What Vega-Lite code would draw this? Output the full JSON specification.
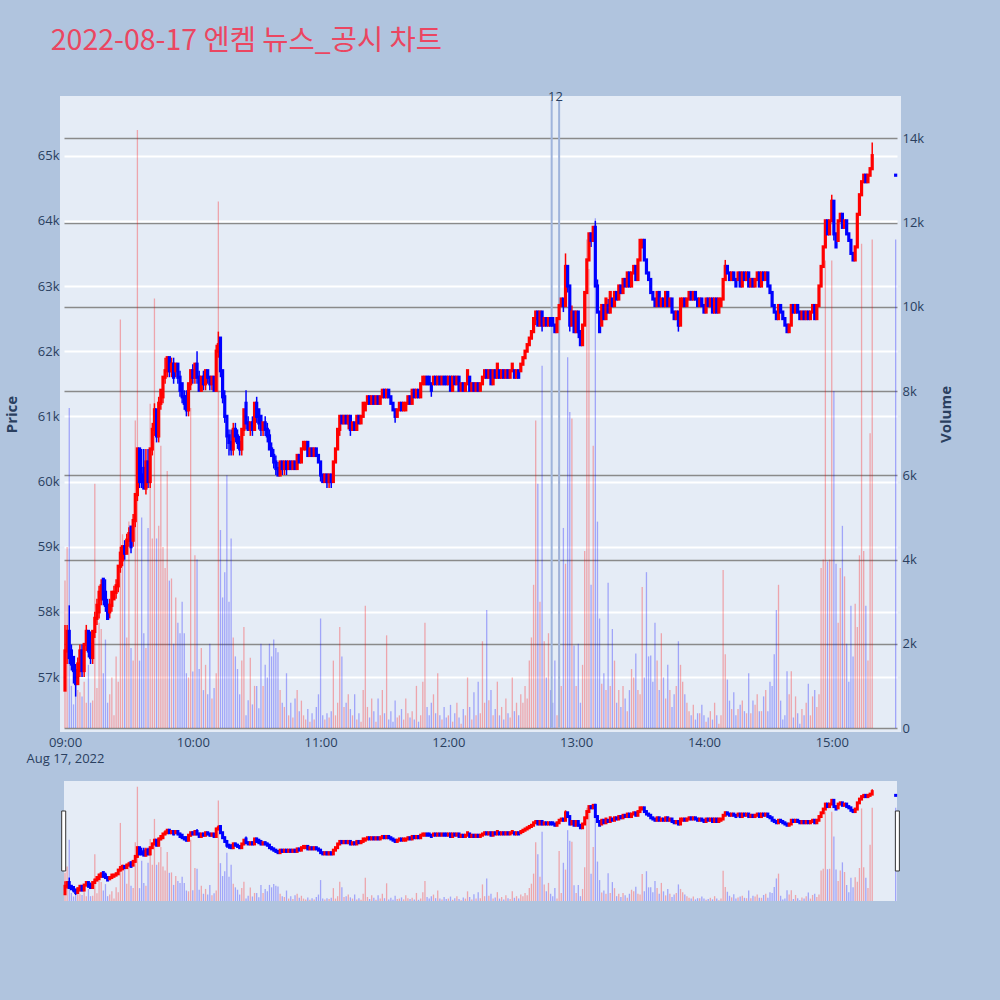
{
"$schema": "https://vega.github.io/schema/vega-lite/v6.json",
"background": "#b0c4de",
"padding": {"left": 0, "top": 27, "right": 52, "bottom": 115},
"title": {"text": "2022-08-17 엔켐 뉴스_공시 차트", "anchor": "start", "font": "Noto Sans CJK KR", "fontSize": 28.5, "fontWeight": "normal", "color": "#eb4661", "dx": 50, "offset": 31.5},
"config": {"view": {"stroke": null}, "axis": {"labelFont": "Open Sans", "titleFont": "Open Sans", "labelColor": "#2a3f5f", "titleColor": "#2a3f5f", "labelFontSize": 13, "titleFontSize": 15, "titleFontWeight": "bold", "ticks": false, "domain": false}},
"data": {"values": [
{"t":"2022-08-17T09:00","o":56800,"h":57800,"l":56800,"c":57400,"v":3500},
{"t":"2022-08-17T09:01","o":57400,"h":57800,"l":57200,"c":57700,"v":4300},
{"t":"2022-08-17T09:02","o":57700,"h":58100,"l":57200,"c":57300,"v":7600},
{"t":"2022-08-17T09:03","o":57400,"h":57500,"l":57100,"c":57200,"v":1000},
{"t":"2022-08-17T09:04","o":57300,"h":57300,"l":56900,"c":57100,"v":560},
{"t":"2022-08-17T09:05","o":57100,"h":57200,"l":56700,"c":56900,"v":1340},
{"t":"2022-08-17T09:06","o":56900,"h":57300,"l":56900,"c":57200,"v":900},
{"t":"2022-08-17T09:07","o":57100,"h":57500,"l":57000,"c":57400,"v":850},
{"t":"2022-08-17T09:08","o":57400,"h":57500,"l":57000,"c":57100,"v":750},
{"t":"2022-08-17T09:09","o":57100,"h":57500,"l":57000,"c":57500,"v":1100},
{"t":"2022-08-17T09:10","o":57500,"h":57800,"l":57400,"c":57700,"v":600},
{"t":"2022-08-17T09:11","o":57700,"h":57700,"l":57300,"c":57400,"v":1500},
{"t":"2022-08-17T09:12","o":57500,"h":57700,"l":57200,"c":57300,"v":600},
{"t":"2022-08-17T09:13","o":57300,"h":57700,"l":57200,"c":57700,"v":650},
{"t":"2022-08-17T09:14","o":57700,"h":58000,"l":57600,"c":57900,"v":5800},
{"t":"2022-08-17T09:15","o":57900,"h":58200,"l":57800,"c":58100,"v":950},
{"t":"2022-08-17T09:16","o":58000,"h":58400,"l":57900,"c":58300,"v":2500},
{"t":"2022-08-17T09:17","o":58200,"h":58500,"l":58100,"c":58400,"v":2350},
{"t":"2022-08-17T09:18","o":58500,"h":58500,"l":58100,"c":58200,"v":1300},
{"t":"2022-08-17T09:19","o":58300,"h":58500,"l":58000,"c":58100,"v":2100},
{"t":"2022-08-17T09:20","o":58100,"h":58200,"l":57900,"c":57900,"v":600},
{"t":"2022-08-17T09:21","o":58000,"h":58200,"l":57900,"c":58100,"v":800},
{"t":"2022-08-17T09:22","o":58100,"h":58300,"l":58000,"c":58300,"v":1200},
{"t":"2022-08-17T09:23","o":58200,"h":58400,"l":58200,"c":58300,"v":300},
{"t":"2022-08-17T09:24","o":58300,"h":58500,"l":58200,"c":58400,"v":1700},
{"t":"2022-08-17T09:25","o":58400,"h":58700,"l":58300,"c":58700,"v":1100},
{"t":"2022-08-17T09:26","o":58700,"h":59000,"l":58600,"c":58900,"v":9700},
{"t":"2022-08-17T09:27","o":58800,"h":59000,"l":58700,"c":59000,"v":4600},
{"t":"2022-08-17T09:28","o":59000,"h":59100,"l":58800,"c":58900,"v":4100},
{"t":"2022-08-17T09:29","o":58900,"h":59200,"l":58900,"c":59100,"v":2150},
{"t":"2022-08-17T09:30","o":59100,"h":59300,"l":59000,"c":59200,"v":4900},
{"t":"2022-08-17T09:31","o":59300,"h":59300,"l":58900,"c":59000,"v":1900},
{"t":"2022-08-17T09:32","o":59100,"h":59500,"l":59000,"c":59400,"v":1600},
{"t":"2022-08-17T09:33","o":59400,"h":59800,"l":59300,"c":59800,"v":7300},
{"t":"2022-08-17T09:34","o":59800,"h":60500,"l":59700,"c":60500,"v":14200},
{"t":"2022-08-17T09:35","o":60500,"h":60500,"l":59900,"c":60000,"v":1600},
{"t":"2022-08-17T09:36","o":60100,"h":60500,"l":59900,"c":60000,"v":5000},
{"t":"2022-08-17T09:37","o":60200,"h":60500,"l":59900,"c":59900,"v":2250},
{"t":"2022-08-17T09:38","o":59900,"h":60500,"l":59800,"c":60300,"v":1900},
{"t":"2022-08-17T09:39","o":60300,"h":60500,"l":59900,"c":60000,"v":4750},
{"t":"2022-08-17T09:40","o":60000,"h":60500,"l":59900,"c":60500,"v":7700},
{"t":"2022-08-17T09:41","o":60500,"h":60900,"l":60400,"c":60800,"v":4500},
{"t":"2022-08-17T09:42","o":60800,"h":61200,"l":60700,"c":61100,"v":10200},
{"t":"2022-08-17T09:43","o":61100,"h":61100,"l":60600,"c":60700,"v":4500},
{"t":"2022-08-17T09:44","o":60700,"h":61300,"l":60600,"c":61200,"v":4800},
{"t":"2022-08-17T09:45","o":61200,"h":61400,"l":61100,"c":61400,"v":6700},
{"t":"2022-08-17T09:46","o":61300,"h":61600,"l":61200,"c":61600,"v":4300},
{"t":"2022-08-17T09:47","o":61600,"h":61900,"l":61500,"c":61700,"v":3800},
{"t":"2022-08-17T09:48","o":61700,"h":61900,"l":61600,"c":61900,"v":6100},
{"t":"2022-08-17T09:49","o":61900,"h":61900,"l":61600,"c":61700,"v":3500},
{"t":"2022-08-17T09:50","o":61700,"h":61900,"l":61600,"c":61800,"v":3550},
{"t":"2022-08-17T09:51","o":61800,"h":61900,"l":61500,"c":61600,"v":2000},
{"t":"2022-08-17T09:52","o":61700,"h":61800,"l":61600,"c":61800,"v":3100},
{"t":"2022-08-17T09:53","o":61800,"h":61800,"l":61500,"c":61600,"v":2500},
{"t":"2022-08-17T09:54","o":61600,"h":61700,"l":61300,"c":61400,"v":2250},
{"t":"2022-08-17T09:55","o":61500,"h":61500,"l":61200,"c":61300,"v":3000},
{"t":"2022-08-17T09:56","o":61300,"h":61400,"l":61100,"c":61200,"v":2250},
{"t":"2022-08-17T09:57","o":61300,"h":61400,"l":61000,"c":61100,"v":1300},
{"t":"2022-08-17T09:58","o":61100,"h":61500,"l":61000,"c":61500,"v":1200},
{"t":"2022-08-17T09:59","o":61500,"h":61700,"l":61400,"c":61700,"v":7600},
{"t":"2022-08-17T10:00","o":61700,"h":61800,"l":61500,"c":61600,"v":1340},
{"t":"2022-08-17T10:01","o":61600,"h":61800,"l":61500,"c":61800,"v":4100},
{"t":"2022-08-17T10:02","o":61800,"h":62000,"l":61500,"c":61600,"v":4000},
{"t":"2022-08-17T10:03","o":61600,"h":61700,"l":61400,"c":61400,"v":1400},
{"t":"2022-08-17T10:04","o":61400,"h":61600,"l":61400,"c":61600,"v":1900},
{"t":"2022-08-17T10:05","o":61600,"h":61700,"l":61400,"c":61500,"v":900},
{"t":"2022-08-17T10:06","o":61500,"h":61700,"l":61400,"c":61700,"v":1500},
{"t":"2022-08-17T10:07","o":61700,"h":61700,"l":61500,"c":61600,"v":800},
{"t":"2022-08-17T10:08","o":61600,"h":61600,"l":61400,"c":61500,"v":2000},
{"t":"2022-08-17T10:09","o":61500,"h":61600,"l":61400,"c":61600,"v":700},
{"t":"2022-08-17T10:10","o":61600,"h":61600,"l":61400,"c":61400,"v":950},
{"t":"2022-08-17T10:11","o":61400,"h":62100,"l":61400,"c":62000,"v":1300},
{"t":"2022-08-17T10:12","o":62000,"h":62300,"l":61900,"c":62100,"v":12500},
{"t":"2022-08-17T10:13","o":62200,"h":62200,"l":61600,"c":61700,"v":4700},
{"t":"2022-08-17T10:14","o":61700,"h":61700,"l":61200,"c":61300,"v":3100},
{"t":"2022-08-17T10:15","o":61300,"h":61400,"l":60900,"c":61000,"v":3700},
{"t":"2022-08-17T10:16","o":61000,"h":61000,"l":60500,"c":60700,"v":6000},
{"t":"2022-08-17T10:17","o":60700,"h":60800,"l":60400,"c":60600,"v":3000},
{"t":"2022-08-17T10:18","o":60600,"h":60800,"l":60400,"c":60500,"v":4500},
{"t":"2022-08-17T10:19","o":60500,"h":60900,"l":60400,"c":60800,"v":2150},
{"t":"2022-08-17T10:20","o":60800,"h":60900,"l":60600,"c":60700,"v":1700},
{"t":"2022-08-17T10:21","o":60700,"h":60800,"l":60500,"c":60600,"v":1400},
{"t":"2022-08-17T10:22","o":60600,"h":60700,"l":60400,"c":60500,"v":800},
{"t":"2022-08-17T10:23","o":60500,"h":60800,"l":60400,"c":60800,"v":1600},
{"t":"2022-08-17T10:24","o":60800,"h":61100,"l":60700,"c":61100,"v":2400},
{"t":"2022-08-17T10:25","o":61200,"h":61400,"l":60800,"c":60900,"v":300},
{"t":"2022-08-17T10:26","o":60900,"h":61000,"l":60800,"c":60800,"v":660},
{"t":"2022-08-17T10:27","o":60800,"h":60900,"l":60700,"c":60900,"v":1670},
{"t":"2022-08-17T10:28","o":60900,"h":61000,"l":60700,"c":60800,"v":560},
{"t":"2022-08-17T10:29","o":60800,"h":61200,"l":60800,"c":61200,"v":1000},
{"t":"2022-08-17T10:30","o":61200,"h":61300,"l":60900,"c":61000,"v":1000},
{"t":"2022-08-17T10:31","o":61100,"h":61100,"l":60800,"c":60900,"v":470},
{"t":"2022-08-17T10:32","o":61000,"h":61000,"l":60700,"c":60800,"v":2000},
{"t":"2022-08-17T10:33","o":60800,"h":60900,"l":60700,"c":60900,"v":1000},
{"t":"2022-08-17T10:34","o":60900,"h":61000,"l":60700,"c":60800,"v":1500},
{"t":"2022-08-17T10:35","o":60800,"h":60900,"l":60600,"c":60700,"v":1200},
{"t":"2022-08-17T10:36","o":60700,"h":60800,"l":60500,"c":60500,"v":2000},
{"t":"2022-08-17T10:37","o":60500,"h":60600,"l":60400,"c":60400,"v":1700},
{"t":"2022-08-17T10:38","o":60400,"h":60500,"l":60200,"c":60300,"v":2100},
{"t":"2022-08-17T10:39","o":60300,"h":60400,"l":60100,"c":60200,"v":1900},
{"t":"2022-08-17T10:40","o":60200,"h":60300,"l":60100,"c":60100,"v":1800},
{"t":"2022-08-17T10:41","o":60100,"h":60300,"l":60100,"c":60300,"v":900},
{"t":"2022-08-17T10:42","o":60300,"h":60300,"l":60100,"c":60200,"v":600},
{"t":"2022-08-17T10:43","o":60200,"h":60300,"l":60100,"c":60300,"v":500},
{"t":"2022-08-17T10:44","o":60300,"h":60300,"l":60100,"c":60200,"v":1300},
{"t":"2022-08-17T10:45","o":60200,"h":60300,"l":60200,"c":60300,"v":300},
{"t":"2022-08-17T10:46","o":60300,"h":60300,"l":60200,"c":60200,"v":600},
{"t":"2022-08-17T10:47","o":60200,"h":60300,"l":60200,"c":60300,"v":250},
{"t":"2022-08-17T10:48","o":60300,"h":60300,"l":60200,"c":60200,"v":700},
{"t":"2022-08-17T10:49","o":60200,"h":60400,"l":60200,"c":60400,"v":900},
{"t":"2022-08-17T10:50","o":60400,"h":60400,"l":60300,"c":60300,"v":400},
{"t":"2022-08-17T10:51","o":60300,"h":60500,"l":60300,"c":60500,"v":650},
{"t":"2022-08-17T10:52","o":60500,"h":60600,"l":60500,"c":60600,"v":300},
{"t":"2022-08-17T10:53","o":60500,"h":60600,"l":60500,"c":60600,"v":200},
{"t":"2022-08-17T10:54","o":60600,"h":60600,"l":60400,"c":60400,"v":450},
{"t":"2022-08-17T10:55","o":60400,"h":60500,"l":60400,"c":60500,"v":150},
{"t":"2022-08-17T10:56","o":60500,"h":60500,"l":60400,"c":60400,"v":350},
{"t":"2022-08-17T10:57","o":60400,"h":60500,"l":60400,"c":60500,"v":200},
{"t":"2022-08-17T10:58","o":60500,"h":60500,"l":60400,"c":60400,"v":500},
{"t":"2022-08-17T10:59","o":60400,"h":60400,"l":60300,"c":60300,"v":800},
{"t":"2022-08-17T11:00","o":60300,"h":60300,"l":60000,"c":60100,"v":2600},
{"t":"2022-08-17T11:01","o":60100,"h":60100,"l":60000,"c":60000,"v":300},
{"t":"2022-08-17T11:02","o":60000,"h":60100,"l":60000,"c":60100,"v":200},
{"t":"2022-08-17T11:03","o":60100,"h":60100,"l":59900,"c":60000,"v":350},
{"t":"2022-08-17T11:04","o":60000,"h":60100,"l":59900,"c":60100,"v":250},
{"t":"2022-08-17T11:05","o":60100,"h":60100,"l":59900,"c":60000,"v":400},
{"t":"2022-08-17T11:06","o":60000,"h":60300,"l":60000,"c":60300,"v":1600},
{"t":"2022-08-17T11:07","o":60300,"h":60500,"l":60300,"c":60500,"v":300},
{"t":"2022-08-17T11:08","o":60500,"h":60800,"l":60500,"c":60800,"v":600},
{"t":"2022-08-17T11:09","o":60800,"h":61000,"l":60700,"c":61000,"v":2400},
{"t":"2022-08-17T11:10","o":61000,"h":61000,"l":60900,"c":60900,"v":1700},
{"t":"2022-08-17T11:11","o":60900,"h":61000,"l":60900,"c":61000,"v":500},
{"t":"2022-08-17T11:12","o":61000,"h":61000,"l":60900,"c":60900,"v":600},
{"t":"2022-08-17T11:13","o":60900,"h":61000,"l":60800,"c":61000,"v":800},
{"t":"2022-08-17T11:14","o":61000,"h":61000,"l":60700,"c":60800,"v":450},
{"t":"2022-08-17T11:15","o":60800,"h":60900,"l":60800,"c":60900,"v":300},
{"t":"2022-08-17T11:16","o":60900,"h":60900,"l":60800,"c":60800,"v":800},
{"t":"2022-08-17T11:17","o":60800,"h":61000,"l":60800,"c":61000,"v":200},
{"t":"2022-08-17T11:18","o":61000,"h":61000,"l":60900,"c":60900,"v":350},
{"t":"2022-08-17T11:19","o":60900,"h":61000,"l":60900,"c":61000,"v":150},
{"t":"2022-08-17T11:20","o":61000,"h":61200,"l":61000,"c":61200,"v":900},
{"t":"2022-08-17T11:21","o":61100,"h":61200,"l":61100,"c":61200,"v":2900},
{"t":"2022-08-17T11:22","o":61200,"h":61300,"l":61200,"c":61300,"v":500},
{"t":"2022-08-17T11:23","o":61300,"h":61300,"l":61200,"c":61200,"v":250},
{"t":"2022-08-17T11:24","o":61200,"h":61300,"l":61200,"c":61300,"v":700},
{"t":"2022-08-17T11:25","o":61300,"h":61300,"l":61200,"c":61200,"v":400},
{"t":"2022-08-17T11:26","o":61200,"h":61300,"l":61200,"c":61300,"v":150},
{"t":"2022-08-17T11:27","o":61300,"h":61300,"l":61200,"c":61200,"v":700},
{"t":"2022-08-17T11:28","o":61200,"h":61300,"l":61200,"c":61300,"v":300},
{"t":"2022-08-17T11:29","o":61300,"h":61400,"l":61300,"c":61400,"v":900},
{"t":"2022-08-17T11:30","o":61400,"h":61400,"l":61300,"c":61300,"v":350},
{"t":"2022-08-17T11:31","o":61300,"h":61400,"l":61300,"c":61400,"v":2200},
{"t":"2022-08-17T11:32","o":61400,"h":61400,"l":61300,"c":61300,"v":200},
{"t":"2022-08-17T11:33","o":61300,"h":61300,"l":61200,"c":61200,"v":400},
{"t":"2022-08-17T11:34","o":61200,"h":61200,"l":61100,"c":61100,"v":150},
{"t":"2022-08-17T11:35","o":61100,"h":61100,"l":60900,"c":61000,"v":650},
{"t":"2022-08-17T11:36","o":61000,"h":61100,"l":61000,"c":61100,"v":250},
{"t":"2022-08-17T11:37","o":61100,"h":61200,"l":61100,"c":61200,"v":300},
{"t":"2022-08-17T11:38","o":61200,"h":61200,"l":61100,"c":61100,"v":450},
{"t":"2022-08-17T11:39","o":61100,"h":61200,"l":61100,"c":61200,"v":200},
{"t":"2022-08-17T11:40","o":61100,"h":61200,"l":61100,"c":61200,"v":700},
{"t":"2022-08-17T11:41","o":61200,"h":61300,"l":61200,"c":61300,"v":350},
{"t":"2022-08-17T11:42","o":61300,"h":61300,"l":61200,"c":61200,"v":250},
{"t":"2022-08-17T11:43","o":61200,"h":61400,"l":61200,"c":61400,"v":400},
{"t":"2022-08-17T11:44","o":61400,"h":61400,"l":61300,"c":61300,"v":200},
{"t":"2022-08-17T11:45","o":61300,"h":61400,"l":61300,"c":61400,"v":1000},
{"t":"2022-08-17T11:46","o":61400,"h":61400,"l":61300,"c":61300,"v":150},
{"t":"2022-08-17T11:47","o":61300,"h":61500,"l":61300,"c":61500,"v":300},
{"t":"2022-08-17T11:48","o":61500,"h":61600,"l":61500,"c":61600,"v":1100},
{"t":"2022-08-17T11:49","o":61500,"h":61600,"l":61500,"c":61600,"v":2500},
{"t":"2022-08-17T11:50","o":61600,"h":61600,"l":61500,"c":61500,"v":500},
{"t":"2022-08-17T11:51","o":61600,"h":61600,"l":61500,"c":61500,"v":300},
{"t":"2022-08-17T11:52","o":61500,"h":61500,"l":61300,"c":61400,"v":600},
{"t":"2022-08-17T11:53","o":61500,"h":61600,"l":61500,"c":61600,"v":800},
{"t":"2022-08-17T11:54","o":61600,"h":61600,"l":61500,"c":61500,"v":350},
{"t":"2022-08-17T11:55","o":61500,"h":61600,"l":61500,"c":61600,"v":1300},
{"t":"2022-08-17T11:56","o":61600,"h":61600,"l":61500,"c":61500,"v":300},
{"t":"2022-08-17T11:57","o":61500,"h":61600,"l":61500,"c":61600,"v":200},
{"t":"2022-08-17T11:58","o":61600,"h":61600,"l":61500,"c":61500,"v":500},
{"t":"2022-08-17T11:59","o":61600,"h":61600,"l":61500,"c":61500,"v":250},
{"t":"2022-08-17T12:00","o":61500,"h":61600,"l":61500,"c":61600,"v":300},
{"t":"2022-08-17T12:01","o":61600,"h":61600,"l":61400,"c":61400,"v":550},
{"t":"2022-08-17T12:02","o":61400,"h":61600,"l":61400,"c":61600,"v":150},
{"t":"2022-08-17T12:03","o":61600,"h":61600,"l":61500,"c":61500,"v":350},
{"t":"2022-08-17T12:04","o":61500,"h":61600,"l":61500,"c":61600,"v":600},
{"t":"2022-08-17T12:05","o":61600,"h":61600,"l":61400,"c":61400,"v":250},
{"t":"2022-08-17T12:06","o":61400,"h":61500,"l":61400,"c":61500,"v":100},
{"t":"2022-08-17T12:07","o":61500,"h":61500,"l":61400,"c":61400,"v":450},
{"t":"2022-08-17T12:08","o":61400,"h":61500,"l":61400,"c":61500,"v":300},
{"t":"2022-08-17T12:09","o":61500,"h":61700,"l":61500,"c":61700,"v":1200},
{"t":"2022-08-17T12:10","o":61600,"h":61600,"l":61400,"c":61400,"v":500},
{"t":"2022-08-17T12:11","o":61400,"h":61500,"l":61400,"c":61500,"v":200},
{"t":"2022-08-17T12:12","o":61500,"h":61500,"l":61400,"c":61400,"v":850},
{"t":"2022-08-17T12:13","o":61400,"h":61500,"l":61400,"c":61500,"v":300},
{"t":"2022-08-17T12:14","o":61500,"h":61500,"l":61400,"c":61400,"v":1100},
{"t":"2022-08-17T12:15","o":61400,"h":61500,"l":61400,"c":61500,"v":350},
{"t":"2022-08-17T12:16","o":61500,"h":61600,"l":61500,"c":61600,"v":2060},
{"t":"2022-08-17T12:17","o":61600,"h":61700,"l":61600,"c":61700,"v":600},
{"t":"2022-08-17T12:18","o":61700,"h":61700,"l":61600,"c":61600,"v":2800},
{"t":"2022-08-17T12:19","o":61600,"h":61700,"l":61600,"c":61700,"v":660},
{"t":"2022-08-17T12:20","o":61700,"h":61700,"l":61500,"c":61500,"v":900},
{"t":"2022-08-17T12:21","o":61500,"h":61700,"l":61500,"c":61700,"v":300},
{"t":"2022-08-17T12:22","o":61700,"h":61700,"l":61600,"c":61600,"v":450},
{"t":"2022-08-17T12:23","o":61600,"h":61800,"l":61600,"c":61800,"v":1100},
{"t":"2022-08-17T12:24","o":61700,"h":61700,"l":61600,"c":61600,"v":300},
{"t":"2022-08-17T12:25","o":61600,"h":61700,"l":61600,"c":61700,"v":500},
{"t":"2022-08-17T12:26","o":61700,"h":61700,"l":61600,"c":61600,"v":200},
{"t":"2022-08-17T12:27","o":61600,"h":61700,"l":61600,"c":61700,"v":700},
{"t":"2022-08-17T12:28","o":61700,"h":61700,"l":61600,"c":61600,"v":350},
{"t":"2022-08-17T12:29","o":61600,"h":61700,"l":61600,"c":61700,"v":250},
{"t":"2022-08-17T12:30","o":61700,"h":61800,"l":61700,"c":61800,"v":1200},
{"t":"2022-08-17T12:31","o":61700,"h":61700,"l":61600,"c":61600,"v":400},
{"t":"2022-08-17T12:32","o":61600,"h":61700,"l":61600,"c":61700,"v":600},
{"t":"2022-08-17T12:33","o":61700,"h":61700,"l":61600,"c":61600,"v":300},
{"t":"2022-08-17T12:34","o":61700,"h":61800,"l":61700,"c":61800,"v":800},
{"t":"2022-08-17T12:35","o":61800,"h":61900,"l":61800,"c":61900,"v":600},
{"t":"2022-08-17T12:36","o":61900,"h":62000,"l":61900,"c":62000,"v":1000},
{"t":"2022-08-17T12:37","o":62000,"h":62100,"l":62000,"c":62100,"v":700},
{"t":"2022-08-17T12:38","o":62100,"h":62200,"l":62100,"c":62200,"v":1600},
{"t":"2022-08-17T12:39","o":62200,"h":62300,"l":62200,"c":62300,"v":2150},
{"t":"2022-08-17T12:40","o":62300,"h":62500,"l":62300,"c":62500,"v":3400},
{"t":"2022-08-17T12:41","o":62500,"h":62600,"l":62400,"c":62600,"v":7300},
{"t":"2022-08-17T12:42","o":62600,"h":62600,"l":62400,"c":62400,"v":5800},
{"t":"2022-08-17T12:43","o":62400,"h":62600,"l":62400,"c":62600,"v":3000},
{"t":"2022-08-17T12:44","o":62600,"h":62600,"l":62300,"c":62400,"v":8600},
{"t":"2022-08-17T12:45","o":62400,"h":62500,"l":62400,"c":62500,"v":2060},
{"t":"2022-08-17T12:46","o":62500,"h":62500,"l":62400,"c":62400,"v":1200},
{"t":"2022-08-17T12:47","o":62400,"h":62500,"l":62400,"c":62500,"v":2250},
{"t":"2022-08-17T12:48","o":62500,"h":62500,"l":62400,"c":62400,"v":900},
{"t":"2022-08-17T12:49","o":62500,"h":62500,"l":62400,"c":62400,"v":600},
{"t":"2022-08-17T12:50","o":62400,"h":62400,"l":62300,"c":62300,"v":1600},
{"t":"2022-08-17T12:51","o":62300,"h":62500,"l":62300,"c":62500,"v":300},
{"t":"2022-08-17T12:52","o":62500,"h":62700,"l":62500,"c":62700,"v":6200},
{"t":"2022-08-17T12:53","o":62700,"h":62800,"l":62700,"c":62800,"v":1000},
{"t":"2022-08-17T12:54","o":62800,"h":62800,"l":62600,"c":62700,"v":4750},
{"t":"2022-08-17T12:55","o":62700,"h":63500,"l":62700,"c":63300,"v":3900},
{"t":"2022-08-17T12:56","o":63300,"h":63300,"l":62900,"c":63000,"v":8800},
{"t":"2022-08-17T12:57","o":63000,"h":63000,"l":62300,"c":62400,"v":7500},
{"t":"2022-08-17T12:58","o":62400,"h":62700,"l":62400,"c":62600,"v":7350},
{"t":"2022-08-17T12:59","o":62600,"h":62600,"l":62300,"c":62300,"v":1960},
{"t":"2022-08-17T13:00","o":62300,"h":62600,"l":62300,"c":62600,"v":1000},
{"t":"2022-08-17T13:01","o":62600,"h":62600,"l":62200,"c":62300,"v":2000},
{"t":"2022-08-17T13:02","o":62300,"h":62300,"l":62100,"c":62100,"v":600},
{"t":"2022-08-17T13:03","o":62100,"h":62400,"l":62100,"c":62400,"v":1500},
{"t":"2022-08-17T13:04","o":62400,"h":62900,"l":62400,"c":62900,"v":4200},
{"t":"2022-08-17T13:05","o":62900,"h":63400,"l":62900,"c":63400,"v":11600},
{"t":"2022-08-17T13:06","o":63400,"h":63800,"l":63400,"c":63800,"v":10900},
{"t":"2022-08-17T13:07","o":63800,"h":63800,"l":63600,"c":63700,"v":3400},
{"t":"2022-08-17T13:08","o":63700,"h":63900,"l":63700,"c":63900,"v":6700},
{"t":"2022-08-17T13:09","o":63900,"h":64000,"l":63000,"c":63000,"v":12100},
{"t":"2022-08-17T13:10","o":63000,"h":63100,"l":62600,"c":62600,"v":4900},
{"t":"2022-08-17T13:11","o":62600,"h":62600,"l":62300,"c":62300,"v":2600},
{"t":"2022-08-17T13:12","o":62400,"h":62700,"l":62400,"c":62700,"v":1050},
{"t":"2022-08-17T13:13","o":62700,"h":62700,"l":62500,"c":62500,"v":1300},
{"t":"2022-08-17T13:14","o":62500,"h":62800,"l":62500,"c":62800,"v":900},
{"t":"2022-08-17T13:15","o":62700,"h":62800,"l":62600,"c":62600,"v":3450},
{"t":"2022-08-17T13:16","o":62600,"h":62900,"l":62600,"c":62900,"v":1000},
{"t":"2022-08-17T13:17","o":62800,"h":62800,"l":62700,"c":62700,"v":2350},
{"t":"2022-08-17T13:18","o":62700,"h":62900,"l":62700,"c":62900,"v":1600},
{"t":"2022-08-17T13:19","o":62900,"h":62900,"l":62800,"c":62800,"v":600},
{"t":"2022-08-17T13:20","o":62800,"h":63000,"l":62800,"c":63000,"v":900},
{"t":"2022-08-17T13:21","o":63000,"h":63000,"l":62900,"c":62900,"v":500},
{"t":"2022-08-17T13:22","o":62900,"h":63100,"l":62900,"c":63100,"v":1000},
{"t":"2022-08-17T13:23","o":63100,"h":63100,"l":63000,"c":63000,"v":700},
{"t":"2022-08-17T13:24","o":63000,"h":63200,"l":63000,"c":63200,"v":400},
{"t":"2022-08-17T13:25","o":63200,"h":63200,"l":63000,"c":63000,"v":900},
{"t":"2022-08-17T13:26","o":63000,"h":63200,"l":63000,"c":63200,"v":1400},
{"t":"2022-08-17T13:27","o":63200,"h":63300,"l":63200,"c":63300,"v":1200},
{"t":"2022-08-17T13:28","o":63300,"h":63300,"l":63100,"c":63100,"v":1770},
{"t":"2022-08-17T13:29","o":63100,"h":63400,"l":63100,"c":63400,"v":900},
{"t":"2022-08-17T13:30","o":63400,"h":63700,"l":63400,"c":63700,"v":800},
{"t":"2022-08-17T13:31","o":63600,"h":63700,"l":63600,"c":63700,"v":3350},
{"t":"2022-08-17T13:32","o":63700,"h":63700,"l":63400,"c":63400,"v":1200},
{"t":"2022-08-17T13:33","o":63400,"h":63400,"l":63200,"c":63200,"v":3700},
{"t":"2022-08-17T13:34","o":63200,"h":63200,"l":63100,"c":63100,"v":1700},
{"t":"2022-08-17T13:35","o":63100,"h":63100,"l":62900,"c":62900,"v":1720},
{"t":"2022-08-17T13:36","o":62900,"h":62900,"l":62800,"c":62800,"v":1100},
{"t":"2022-08-17T13:37","o":62800,"h":62800,"l":62700,"c":62700,"v":2500},
{"t":"2022-08-17T13:38","o":62700,"h":62900,"l":62700,"c":62900,"v":1600},
{"t":"2022-08-17T13:39","o":62900,"h":62900,"l":62700,"c":62700,"v":900},
{"t":"2022-08-17T13:40","o":62700,"h":62800,"l":62700,"c":62800,"v":2250},
{"t":"2022-08-17T13:41","o":62800,"h":62800,"l":62700,"c":62700,"v":1200},
{"t":"2022-08-17T13:42","o":62700,"h":62900,"l":62700,"c":62900,"v":700},
{"t":"2022-08-17T13:43","o":62900,"h":62900,"l":62700,"c":62700,"v":1500},
{"t":"2022-08-17T13:44","o":62700,"h":62800,"l":62700,"c":62800,"v":900},
{"t":"2022-08-17T13:45","o":62800,"h":62800,"l":62600,"c":62600,"v":500},
{"t":"2022-08-17T13:46","o":62600,"h":62600,"l":62500,"c":62500,"v":800},
{"t":"2022-08-17T13:47","o":62500,"h":62600,"l":62500,"c":62600,"v":1000},
{"t":"2022-08-17T13:48","o":62600,"h":62600,"l":62300,"c":62400,"v":2060},
{"t":"2022-08-17T13:49","o":62400,"h":62800,"l":62400,"c":62800,"v":1500},
{"t":"2022-08-17T13:50","o":62700,"h":62800,"l":62700,"c":62800,"v":1100},
{"t":"2022-08-17T13:51","o":62800,"h":62800,"l":62700,"c":62700,"v":800},
{"t":"2022-08-17T13:52","o":62700,"h":62800,"l":62700,"c":62800,"v":600},
{"t":"2022-08-17T13:53","o":62800,"h":62900,"l":62800,"c":62900,"v":400},
{"t":"2022-08-17T13:54","o":62900,"h":62900,"l":62800,"c":62800,"v":300},
{"t":"2022-08-17T13:55","o":62800,"h":62900,"l":62800,"c":62900,"v":550},
{"t":"2022-08-17T13:56","o":62900,"h":62900,"l":62800,"c":62800,"v":200},
{"t":"2022-08-17T13:57","o":62800,"h":62800,"l":62700,"c":62700,"v":350},
{"t":"2022-08-17T13:58","o":62700,"h":62800,"l":62700,"c":62800,"v":350},
{"t":"2022-08-17T13:59","o":62800,"h":62800,"l":62700,"c":62700,"v":550},
{"t":"2022-08-17T14:00","o":62700,"h":62700,"l":62600,"c":62600,"v":300},
{"t":"2022-08-17T14:01","o":62600,"h":62800,"l":62600,"c":62800,"v":150},
{"t":"2022-08-17T14:02","o":62800,"h":62800,"l":62700,"c":62700,"v":250},
{"t":"2022-08-17T14:03","o":62700,"h":62800,"l":62700,"c":62800,"v":400},
{"t":"2022-08-17T14:04","o":62800,"h":62800,"l":62600,"c":62600,"v":200},
{"t":"2022-08-17T14:05","o":62600,"h":62800,"l":62600,"c":62800,"v":600},
{"t":"2022-08-17T14:06","o":62800,"h":62800,"l":62600,"c":62600,"v":300},
{"t":"2022-08-17T14:07","o":62600,"h":62800,"l":62600,"c":62800,"v":100},
{"t":"2022-08-17T14:08","o":62700,"h":62800,"l":62700,"c":62800,"v":300},
{"t":"2022-08-17T14:09","o":62800,"h":63100,"l":62800,"c":63100,"v":3750},
{"t":"2022-08-17T14:10","o":63100,"h":63400,"l":63100,"c":63300,"v":1750},
{"t":"2022-08-17T14:11","o":63300,"h":63300,"l":63200,"c":63200,"v":1150},
{"t":"2022-08-17T14:12","o":63200,"h":63200,"l":63100,"c":63100,"v":650},
{"t":"2022-08-17T14:13","o":63100,"h":63200,"l":63100,"c":63200,"v":450},
{"t":"2022-08-17T14:14","o":63200,"h":63200,"l":63100,"c":63100,"v":850},
{"t":"2022-08-17T14:15","o":63100,"h":63100,"l":63000,"c":63000,"v":300},
{"t":"2022-08-17T14:16","o":63100,"h":63200,"l":63100,"c":63200,"v":450},
{"t":"2022-08-17T14:17","o":63200,"h":63200,"l":63000,"c":63000,"v":550},
{"t":"2022-08-17T14:18","o":63000,"h":63200,"l":63000,"c":63200,"v":650},
{"t":"2022-08-17T14:19","o":63200,"h":63200,"l":63100,"c":63100,"v":400},
{"t":"2022-08-17T14:20","o":63100,"h":63200,"l":63100,"c":63200,"v":350},
{"t":"2022-08-17T14:21","o":63200,"h":63200,"l":63000,"c":63000,"v":1300},
{"t":"2022-08-17T14:22","o":63000,"h":63100,"l":63000,"c":63100,"v":350},
{"t":"2022-08-17T14:23","o":63100,"h":63100,"l":63000,"c":63000,"v":650},
{"t":"2022-08-17T14:24","o":63000,"h":63100,"l":63000,"c":63100,"v":550},
{"t":"2022-08-17T14:25","o":63100,"h":63200,"l":63100,"c":63200,"v":800},
{"t":"2022-08-17T14:26","o":63200,"h":63200,"l":63000,"c":63000,"v":400},
{"t":"2022-08-17T14:27","o":63000,"h":63200,"l":63000,"c":63200,"v":400},
{"t":"2022-08-17T14:28","o":63200,"h":63200,"l":63100,"c":63100,"v":750},
{"t":"2022-08-17T14:29","o":63100,"h":63200,"l":63100,"c":63200,"v":900},
{"t":"2022-08-17T14:30","o":63200,"h":63200,"l":63000,"c":63000,"v":400},
{"t":"2022-08-17T14:31","o":63000,"h":63000,"l":62900,"c":62900,"v":1100},
{"t":"2022-08-17T14:32","o":62900,"h":62900,"l":62700,"c":62700,"v":1000},
{"t":"2022-08-17T14:33","o":62700,"h":62700,"l":62600,"c":62600,"v":1750},
{"t":"2022-08-17T14:34","o":62600,"h":62600,"l":62500,"c":62500,"v":2800},
{"t":"2022-08-17T14:35","o":62500,"h":62700,"l":62500,"c":62700,"v":3400},
{"t":"2022-08-17T14:36","o":62700,"h":62700,"l":62600,"c":62600,"v":650},
{"t":"2022-08-17T14:37","o":62600,"h":62600,"l":62500,"c":62500,"v":200},
{"t":"2022-08-17T14:38","o":62500,"h":62500,"l":62400,"c":62400,"v":300},
{"t":"2022-08-17T14:39","o":62400,"h":62400,"l":62300,"c":62300,"v":1350},
{"t":"2022-08-17T14:40","o":62300,"h":62400,"l":62300,"c":62400,"v":800},
{"t":"2022-08-17T14:41","o":62400,"h":62700,"l":62400,"c":62700,"v":1350},
{"t":"2022-08-17T14:42","o":62700,"h":62700,"l":62600,"c":62600,"v":250},
{"t":"2022-08-17T14:43","o":62600,"h":62700,"l":62600,"c":62700,"v":750},
{"t":"2022-08-17T14:44","o":62700,"h":62700,"l":62600,"c":62600,"v":350},
{"t":"2022-08-17T14:45","o":62600,"h":62600,"l":62500,"c":62500,"v":100},
{"t":"2022-08-17T14:46","o":62500,"h":62600,"l":62500,"c":62600,"v":450},
{"t":"2022-08-17T14:47","o":62600,"h":62600,"l":62500,"c":62500,"v":300},
{"t":"2022-08-17T14:48","o":62500,"h":62600,"l":62500,"c":62600,"v":600},
{"t":"2022-08-17T14:49","o":62600,"h":62600,"l":62500,"c":62500,"v":1050},
{"t":"2022-08-17T14:50","o":62500,"h":62600,"l":62500,"c":62600,"v":300},
{"t":"2022-08-17T14:51","o":62600,"h":62700,"l":62600,"c":62700,"v":750},
{"t":"2022-08-17T14:52","o":62700,"h":62700,"l":62500,"c":62500,"v":900},
{"t":"2022-08-17T14:53","o":62500,"h":62700,"l":62500,"c":62700,"v":500},
{"t":"2022-08-17T14:54","o":62700,"h":63000,"l":62700,"c":63000,"v":800},
{"t":"2022-08-17T14:55","o":63000,"h":63300,"l":63000,"c":63300,"v":3800},
{"t":"2022-08-17T14:56","o":63300,"h":63600,"l":63300,"c":63600,"v":4000},
{"t":"2022-08-17T14:57","o":63600,"h":64000,"l":63600,"c":64000,"v":11100},
{"t":"2022-08-17T14:58","o":64000,"h":64000,"l":63800,"c":63800,"v":3950},
{"t":"2022-08-17T14:59","o":63800,"h":64000,"l":63800,"c":64000,"v":4000},
{"t":"2022-08-17T15:00","o":64000,"h":64400,"l":64000,"c":64300,"v":11100},
{"t":"2022-08-17T15:01","o":64300,"h":64300,"l":63700,"c":63800,"v":8000},
{"t":"2022-08-17T15:02","o":63800,"h":63800,"l":63600,"c":63600,"v":3900},
{"t":"2022-08-17T15:03","o":63700,"h":64000,"l":63700,"c":64000,"v":2500},
{"t":"2022-08-17T15:04","o":64000,"h":64100,"l":64000,"c":64100,"v":3800},
{"t":"2022-08-17T15:05","o":64100,"h":64100,"l":63900,"c":63900,"v":4800},
{"t":"2022-08-17T15:06","o":63900,"h":64000,"l":63900,"c":64000,"v":3600},
{"t":"2022-08-17T15:07","o":64000,"h":64000,"l":63800,"c":63800,"v":2000},
{"t":"2022-08-17T15:08","o":63800,"h":63800,"l":63700,"c":63700,"v":1100},
{"t":"2022-08-17T15:09","o":63700,"h":63700,"l":63500,"c":63500,"v":2900},
{"t":"2022-08-17T15:10","o":63500,"h":63500,"l":63400,"c":63400,"v":1700},
{"t":"2022-08-17T15:11","o":63400,"h":63600,"l":63400,"c":63600,"v":2950},
{"t":"2022-08-17T15:12","o":63600,"h":64100,"l":63600,"c":64100,"v":2400},
{"t":"2022-08-17T15:13","o":64100,"h":64400,"l":64100,"c":64400,"v":4100},
{"t":"2022-08-17T15:14","o":64400,"h":64600,"l":64400,"c":64600,"v":11500},
{"t":"2022-08-17T15:15","o":64600,"h":64700,"l":64600,"c":64700,"v":4200},
{"t":"2022-08-17T15:16","o":64700,"h":64700,"l":64600,"c":64600,"v":2900},
{"t":"2022-08-17T15:17","o":64600,"h":64700,"l":64600,"c":64700,"v":1600},
{"t":"2022-08-17T15:18","o":64700,"h":64800,"l":64700,"c":64800,"v":7000},
{"t":"2022-08-17T15:19","o":64800,"h":65200,"l":64800,"c":65000,"v":11600},
{"t":"2022-08-17T15:30","o":64700,"h":64700,"l":64700,"c":64700,"v":11600}
]},
"spacing": 12,
"vconcat": [
{
"width": 833, "height": 628,
"view": {"fill": "#e5ecf6", "stroke": "#e5ecf6", "strokeWidth": 8},
"encoding": {"x": {"field": "t", "type": "temporal",
  "scale": {"domain": [{"year": 2022, "month": 8, "date": 17, "hours": 8, "minutes": 59, "seconds": 32}, {"year": 2022, "month": 8, "date": 17, "hours": 15, "minutes": 30, "seconds": 38}]},
  "axis": {"title": "Aug 17, 2022", "titleFontWeight": "normal", "titleFontSize": 13, "titleAnchor": "start", "titleAlign": "center", "titleBaseline": "middle", "titleX": 1, "titleY": 30,
    "grid": false, "format": "%H:%M", "tickCount": 7, "labelFlush": false, "labelPadding": 8}}},
"layer": [
  {"layer": [
    {"mark": {"type": "rule", "strokeWidth": 1.3, "opacity": 0.3},
     "encoding": {
       "y": {"field": "v", "type": "quantitative", "scale": {"domain": [0, 14910], "nice": false, "zero": false},
         "axis": {"orient": "right", "title": "Volume", "values": [0, 2000, 4000, 6000, 8000, 10000, 12000, 14000], "labelExpr": "datum.value == 0 ? '0' : format(datum.value, '~s')", "grid": true, "gridColor": "#8a8a8a", "gridWidth": 1.3, "labelPadding": 5, "titlePadding": 15, "titleAngle": -90, "titleBaseline": "top"}},
       "y2": {"datum": 0},
       "color": {"condition": {"test": "datum.c > datum.o", "value": "#ff0000"}, "value": "#0000ff"}}},
    {"data": {"values": [{"t": "2022-08-17T12:48:30", "k": "1"}, {"t": "2022-08-17T12:52:00", "k": "2"}]},
     "mark": {"type": "rule", "stroke": "#9fb4dc", "strokeWidth": 2},
     "encoding": {}},
    {"data": {"values": [{"t": "2022-08-17T12:48:30", "k": "1"}, {"t": "2022-08-17T12:52:00", "k": "2"}]},
     "mark": {"type": "text", "baseline": "alphabetic", "dy": 1, "fontSize": 13, "font": "Open Sans", "color": "#2a3f5f"},
     "encoding": {"y": {"datum": 14910}, "text": {"field": "k"}}}
  ]},
  {"layer": [
    {"mark": {"type": "rule", "strokeWidth": 1.5},
     "encoding": {
       "y": {"field": "l", "type": "quantitative", "scale": {"domain": [56218, 65854], "nice": false, "zero": false},
         "axis": {"orient": "left", "title": "Price", "values": [57000, 58000, 59000, 60000, 61000, 62000, 63000, 64000, 65000], "format": "~s", "grid": true, "gridColor": "#ffffff", "gridWidth": 2, "labelPadding": 5, "titlePadding": 17.5}},
       "y2": {"field": "h"},
       "color": {"condition": {"test": "datum.c > datum.o", "value": "#ff0000"}, "value": "#0000ff"}}},
    {"mark": {"type": "rule", "strokeWidth": 3.2, "strokeCap": "square"},
     "encoding": {
       "y": {"field": "o", "type": "quantitative", "title": "Price"},
       "y2": {"field": "c"},
       "color": {"condition": {"test": "datum.c > datum.o", "value": "#ff0000"}, "value": "#0000ff"}}}
  ]}
],
"resolve": {"scale": {"y": "independent"}}
},
{
"width": 833, "height": 120,
"view": {"fill": "#e5ecf6"},
"encoding": {"x": {"field": "t", "type": "temporal",
  "scale": {"domain": [{"year": 2022, "month": 8, "date": 17, "hours": 8, "minutes": 59, "seconds": 32}, {"year": 2022, "month": 8, "date": 17, "hours": 15, "minutes": 30, "seconds": 38}]},
  "axis": null}},
"layer": [
  {"layer": [
    {"mark": {"type": "rule", "strokeWidth": 1.3, "opacity": 0.3},
     "encoding": {
       "y": {"field": "v", "type": "quantitative", "scale": {"domain": [0, 14910], "nice": false, "zero": false}, "axis": null},
       "y2": {"datum": 0},
       "color": {"condition": {"test": "datum.c > datum.o", "value": "#ff0000"}, "value": "#0000ff"}}},
    {"data": {"values": [{"t": "2022-08-17T08:58:27", "e": "2022-08-17T09:00:20", "a": 11183, "b": 3728}, {"t": "2022-08-17T15:29:52", "e": "2022-08-17T15:31:45", "a": 11183, "b": 3728}]},
     "mark": {"type": "rect", "fill": "#ffffff", "stroke": "#333333", "strokeWidth": 1},
     "encoding": {"x2": {"field": "e"}, "y": {"field": "a", "type": "quantitative"}, "y2": {"field": "b"}}}
  ]},
  {"layer": [
    {"mark": {"type": "rule", "strokeWidth": 1.5},
     "encoding": {
       "y": {"field": "l", "type": "quantitative", "scale": {"domain": [56218, 65854], "nice": false, "zero": false}, "axis": null},
       "y2": {"field": "h"},
       "color": {"condition": {"test": "datum.c > datum.o", "value": "#ff0000"}, "value": "#0000ff"}}},
    {"mark": {"type": "rule", "strokeWidth": 3, "strokeCap": "square"},
     "encoding": {
       "y": {"field": "o", "type": "quantitative"},
       "y2": {"field": "c"},
       "color": {"condition": {"test": "datum.c > datum.o", "value": "#ff0000"}, "value": "#0000ff"}}}
  ]}
],
"resolve": {"scale": {"y": "independent"}}
}
]
}
